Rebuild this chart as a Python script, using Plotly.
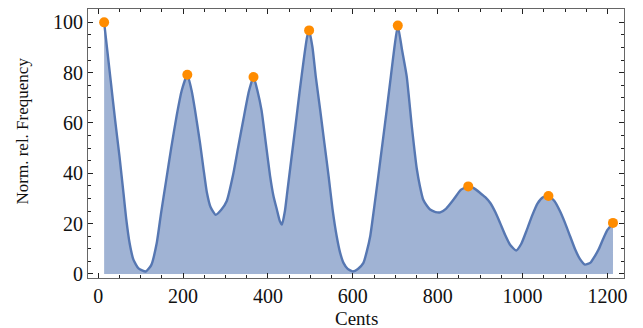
import plotly.graph_objects as go

cents = [14, 30, 40, 50, 60, 66, 74, 83, 95, 112, 125, 138, 148, 160, 172, 185, 197, 210,
         220, 228, 240, 248, 256, 265, 277, 290, 303, 318, 330, 342, 355, 366,
         375, 385, 395, 405, 413, 421, 428, 433, 440, 445, 455, 465, 475, 485, 492, 497,
         505, 513, 523, 533, 543, 552, 562, 570, 578, 588, 600, 612, 625, 633, 641, 650,
         660, 670, 680, 690, 698, 706, 716, 727, 739, 751, 758, 766, 775, 782, 795, 806,
         820, 837, 855, 872, 886, 900, 912, 924, 936, 947, 959, 971, 985, 997, 1010, 1022,
         1035, 1048, 1061, 1075, 1088, 1100, 1112, 1124, 1135, 1147, 1160, 1170, 1179,
         1190, 1200, 1213]
freq = [100, 76, 61, 47, 31.5, 22, 12.3, 5.7, 2.2, 1.0, 3.5, 12.3, 24, 37, 50, 63, 73, 79.2,
        73, 65.3, 52, 42, 32.5, 26.5, 23.5, 25.5, 29, 39.5, 50.5, 61.3, 72.5, 78.3,
        73, 65, 52, 39, 31, 25.6, 21, 19.6, 25, 31.8, 45.5, 59, 73, 86, 94, 96.8,
        90, 78, 65.3, 52, 38.8, 26, 15, 8.5, 4.4, 2, 1, 2, 4.4, 9, 15, 26,
        38.8, 52, 65.3, 79, 90, 98.7, 89, 78.5, 58.7, 41.5, 35, 29.5, 27, 25.6, 24.6, 24.5,
        26, 29.5, 33.5, 34.8, 34, 32.2, 30.5, 28.2, 24.5, 20.3, 15.5, 11.5, 9.3, 12, 17.5, 23,
        28, 30.5, 31, 29, 25, 20.3, 15, 9.7, 6, 3.7, 4.5, 7, 9.7,
        14, 17.5, 20.3]

peak_cents = [14, 210, 366, 497, 706, 872, 1061, 1213]
peak_freq = [100, 79.2, 78.3, 96.8, 98.7, 34.8, 31, 20.3]

x_ticks = [0, 200, 400, 600, 800, 1000, 1200]
y_ticks = [0, 20, 40, 60, 80, 100]

FONT = "Liberation Serif"

fig = go.Figure()
fig.add_trace(go.Scatter(
    x=cents, y=freq, mode="lines",
    line=dict(color="#5677B2", width=2.4, shape="spline", smoothing=0.5),
    fill="tozeroy", fillcolor="#A0B3D4", hoverinfo="skip", showlegend=False,
))
fig.add_trace(go.Scatter(
    x=peak_cents, y=peak_freq, mode="markers",
    marker=dict(color="#FF8C00", size=10, line=dict(width=0)),
    showlegend=False,
))

axis_common = dict(
    showgrid=False, zeroline=False, showline=True, linecolor="#666666", linewidth=1,
    mirror="ticks", ticks="inside", ticklen=5, tickwidth=1, tickcolor="#222222",
    tickfont=dict(family=FONT, size=20, color="#111111"), automargin=False,
)

# page body has an 8px margin, so the figure is drawn 8px smaller and offset
fig.update_layout(
    width=635, height=320,
    margin=dict(l=80, r=19, t=1, b=50),
    paper_bgcolor="white", plot_bgcolor="white",
    xaxis=dict(range=[-24, 1239], tickvals=x_ticks,
               minor=dict(dtick=50, tick0=0, ticklen=3, tickcolor="#222222", ticks="inside"),
               **axis_common),
    yaxis=dict(range=[-1.6, 105.3], tickvals=y_ticks,
               minor=dict(dtick=5, tick0=0, ticklen=3, tickcolor="#222222", ticks="inside"),
               **axis_common),
    annotations=[
        dict(text="Cents", xref="paper", yref="paper", x=0.5, y=-0.152,
             xanchor="center", yanchor="middle", showarrow=False,
             font=dict(family=FONT, size=19, color="#111111")),
        dict(text="Norm. rel. Frequency", xref="paper", yref="paper", x=-0.123, y=0.545,
             xanchor="center", yanchor="middle", textangle=-90, showarrow=False,
             font=dict(family=FONT, size=17, color="#111111")),
    ],
)

fig.write_html("out.html")
